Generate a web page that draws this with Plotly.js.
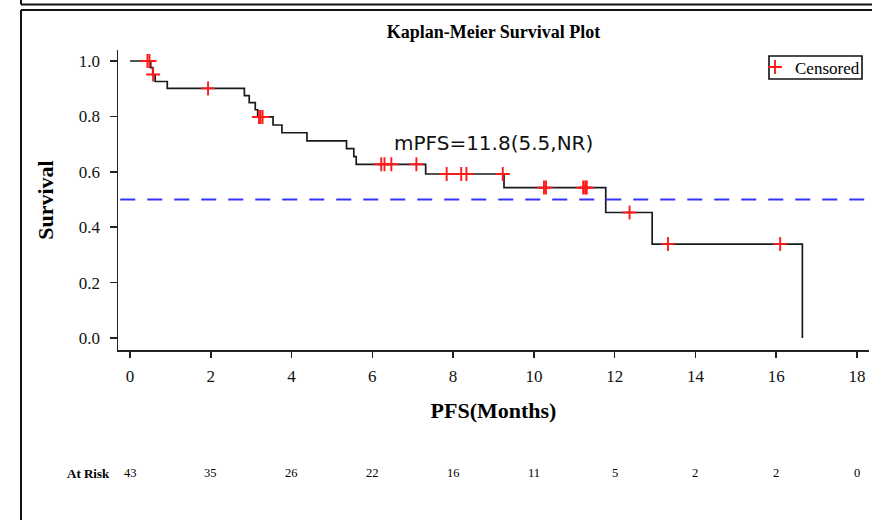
<!DOCTYPE html>
<html>
<head>
<meta charset="utf-8">
<script src="https://cdn.plot.ly/plotly-3.0.1.min.js"></script>
<style>html,body{margin:0;padding:0;background:#fff;}#chart{width:872px;height:520px;}</style>
</head>
<body>
<div id="chart"></div>
<script>
// Kaplan-Meier step curve (time in months, survival probability)
var curveTimes = [0, 0.51, 0.56, 0.62, 0.92, 2.83, 2.95, 3.10, 3.16, 3.54, 3.76, 4.38, 5.36, 5.54, 5.60, 7.32, 9.26, 11.78, 12.93, 16.65];
var curveSurv  = [1.0, 0.976, 0.951, 0.926, 0.901, 0.875, 0.850, 0.824, 0.798, 0.769, 0.741, 0.712, 0.684, 0.655, 0.627, 0.592, 0.543, 0.453, 0.339, 0.0];

// Censored observations
var censorTimes = [0.43, 0.48, 0.57, 1.93, 3.19, 3.23, 3.28, 6.22, 6.30, 6.47, 7.09, 7.84, 8.20, 8.33, 9.23, 10.25, 10.30, 11.22, 11.27, 11.31, 12.37, 13.32, 16.10];
var censorSurv  = [1.0, 1.0, 0.951, 0.901, 0.798, 0.798, 0.798, 0.627, 0.627, 0.627, 0.627, 0.592, 0.592, 0.592, 0.592, 0.543, 0.543, 0.543, 0.543, 0.543, 0.453, 0.339, 0.339];

// Number at risk table
var atRiskTimes  = [0, 2, 4, 6, 8, 10, 12, 14, 16, 18];
var atRiskCounts = [43, 35, 26, 22, 16, 11, 5, 2, 2, 0];

var medianLevel = 0.5;
var medianLabel = 'mPFS=11.8(5.5,NR)';
var medianLabelPos = [9.0, 0.705];

var serif = 'Liberation Serif, Times New Roman, serif';

var traces = [
  {
    x: curveTimes, y: curveSurv, type: 'scatter', mode: 'lines',
    line: {shape: 'hv', color: '#1a1a1a', width: 1.7},
    showlegend: false, hoverinfo: 'x+y'
  },
  {
    x: censorTimes, y: censorSurv, type: 'scatter', mode: 'markers',
    name: 'Censored',
    marker: {symbol: 'cross-thin', size: 10, color: '#ff0000', line: {color: '#ff1a1a', width: 1.9}},
    showlegend: true
  }
];

function px2paperX(px){ return (px - 118) / 751; }
function px2paperY(py){ return (350 - py) / 300; }

var frameColor = '#111';
var shapes = [
  {type: 'line', xref: 'paper', yref: 'y', x0: 0.003, x1: 1, y0: medianLevel, y1: medianLevel,
   line: {color: '#3434ff', width: 2, dash: '15px,12px'}},
  // frame of previous panel
  {type: 'line', xref: 'paper', yref: 'paper', x0: px2paperX(21), x1: px2paperX(880), y0: px2paperY(4.5), y1: px2paperY(4.5), line: {color: frameColor, width: 2}},
  {type: 'line', xref: 'paper', yref: 'paper', x0: px2paperX(21), x1: px2paperX(21), y0: px2paperY(-5), y1: px2paperY(4.5), line: {color: frameColor, width: 2}},
  // frame of this panel
  {type: 'line', xref: 'paper', yref: 'paper', x0: px2paperX(21), x1: px2paperX(880), y0: px2paperY(10), y1: px2paperY(10), line: {color: frameColor, width: 2}},
  {type: 'line', xref: 'paper', yref: 'paper', x0: px2paperX(21), x1: px2paperX(21), y0: px2paperY(10), y1: px2paperY(530), line: {color: frameColor, width: 2}},
  // legend box
  {type: 'rect', xref: 'paper', yref: 'paper', x0: px2paperX(769), x1: px2paperX(862), y0: px2paperY(56), y1: px2paperY(79),
   line: {color: '#111', width: 1.6}, fillcolor: 'rgba(0,0,0,0)'}
];

var annotations = [
  {x: medianLabelPos[0], y: medianLabelPos[1], xref: 'x', yref: 'y', text: medianLabel, showarrow: false,
   font: {family: 'DejaVu Sans, sans-serif', size: 20, color: '#111'}},
  {x: px2paperX(112), y: px2paperY(473), xref: 'paper', yref: 'paper', text: 'At Risk', showarrow: false,
   xanchor: 'right', yanchor: 'middle', font: {family: serif, size: 13, color: '#000', weight: 'bold'}}
];
for (var i = 0; i < atRiskTimes.length; i++) {
  annotations.push({x: atRiskTimes[i], y: px2paperY(473), xref: 'x', yref: 'paper', text: String(atRiskCounts[i]),
    showarrow: false, xanchor: 'center', yanchor: 'middle', font: {family: serif, size: 12.5, color: '#000'}});
}

var layout = {
  width: 872, height: 520,
  margin: {l: 118, r: 3, t: 50, b: 170, pad: 0},
  paper_bgcolor: '#fff', plot_bgcolor: '#fff',
  title: {text: 'Kaplan-Meier Survival Plot', x: 0.5, xref: 'paper', xanchor: 'center',
          y: 1 - 32/520, yref: 'container', yanchor: 'middle',
          font: {family: serif, size: 18, color: '#000', weight: 'bold'}},
  xaxis: {
    range: [-0.3, 18.3], tickmode: 'linear', tick0: 0, dtick: 2,
    showline: true, linecolor: '#222', linewidth: 1.5, mirror: false,
    ticks: 'outside', ticklen: 6, tickwidth: 1.5, tickcolor: '#222',
    ticklabelstandoff: 4,
    showgrid: false, zeroline: false,
    tickfont: {family: serif, size: 17, color: '#111'},
    title: {text: 'PFS(Months)', standoff: 17, font: {family: serif, size: 22, color: '#000', weight: 'bold'}}
  },
  yaxis: {
    range: [-0.0433, 1.0397], tickmode: 'linear', tick0: 0, dtick: 0.2, tickformat: '.1f',
    showline: true, linecolor: '#222', linewidth: 1.5,
    ticks: 'outside', ticklen: 7, tickwidth: 1.5, tickcolor: '#222',
    ticklabelstandoff: 6,
    showgrid: false, zeroline: false,
    tickfont: {family: serif, size: 17, color: '#111'},
    title: {text: 'Survival', standoff: 19, font: {family: serif, size: 22, color: '#000', weight: 'bold'}}
  },
  showlegend: true,
  legend: {x: px2paperX(755), xanchor: 'left', y: px2paperY(49.5), yanchor: 'top',
           bgcolor: 'rgba(0,0,0,0)', borderwidth: 0,
           font: {family: serif, size: 17, color: '#000'}, itemwidth: 30},
  shapes: shapes,
  annotations: annotations
};

Plotly.newPlot('chart', traces, layout, {displayModeBar: false, staticPlot: true});
</script>
</body>
</html>
